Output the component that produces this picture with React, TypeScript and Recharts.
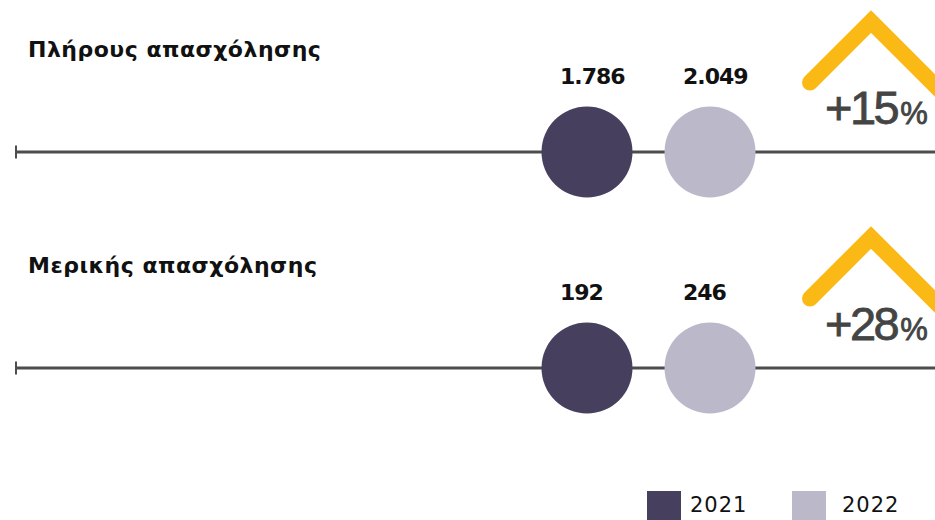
import React from "react";
import { ScatterChart, Scatter, XAxis, YAxis, ReferenceLine, Legend } from "recharts";

const rowLabels = ["Πλήρους απασχόλησης", "Μερικής απασχόλησης"];
const years = ["2021", "2022"];
const values2021 = [1786, 192];
const values2022 = [2049, 246];

const DARK = "#463F5E";
const LIGHT = "#BBB8CA";
const YELLOW = "#FBB916";
const LINE = "#4D4D4D";

const data2021 = values2021.map((v, i) => ({ slot: 0, row: i, value: v }));
const data2022 = values2022.map((v, i) => ({ slot: 1, row: i, value: v, prev: values2021[i] }));

const fmt = (n: number) => n.toString().replace(/\B(?=(\d{3})+(?!\d))/g, ".");

const R = 45.5;

const ValueLabel = ({ cx, cy, value }: any) => (
  <text x={cx - 27} y={cy - 68} fontFamily="DejaVu Sans" fontWeight={700} fontSize={22} letterSpacing={-1} fill="#111">
    {fmt(value)}
  </text>
);

const Dot2021 = (p: any) => {
  const { cx, cy, payload } = p;
  return (
    <g>
      <circle cx={cx} cy={cy} r={R} fill={DARK} />
      <ValueLabel cx={cx} cy={cy} value={payload.value} />
    </g>
  );
};

const Dot2022 = (p: any) => {
  const { cx, cy, payload } = p;
  const pct = Math.round(((payload.value - payload.prev) / payload.prev) * 100);
  return (
    <g>
      <circle cx={cx} cy={cy} r={R} fill={LIGHT} />
      <ValueLabel cx={cx} cy={cy} value={payload.value} />
      <path
        d={`M ${cx + 100} ${cy - 69.5} L ${cx + 161} ${cy - 130.5} L ${cx + 241} ${cy - 50.5}`}
        fill="none"
        stroke={YELLOW}
        strokeWidth={16}
        strokeLinecap="round"
        strokeLinejoin="miter"
      />
      <text x={cx + 115} y={cy - 28} fontFamily="Liberation Sans" fill="#444" stroke="#444" strokeWidth={0.8} letterSpacing={-2.5}>
        <tspan fontSize={47}>{`+${pct}`}</tspan>
        <tspan fontSize={31} letterSpacing={0} dx={3}>%</tspan>
      </text>
    </g>
  );
};

const RowTick = (p: any) => {
  const { x, y, payload } = p;
  const label = rowLabels[payload.value];
  return (
    <g>
      <line x1={x + 1} x2={x + 1} y1={y - 6.5} y2={y + 6.5} stroke={LINE} strokeWidth={2} />
      <text x={x + 13} y={y - 95} fontFamily="DejaVu Sans" fontWeight={700} fontSize={22} letterSpacing={0.5} fill="#111">
        {label}
      </text>
    </g>
  );
};

const LegendContent = () => {
  const cols = [DARK, LIGHT];
  const gaps = [9, 16];
  return (
    <div style={{ display: "flex" }}>
      {years.map((y, i) => (
        <div key={y} style={{ display: "flex", width: 145 }}>
          <div style={{ width: 34, height: 34, background: cols[i], marginRight: gaps[i] }} />
          <div
            style={{
              fontFamily: "DejaVu Sans",
              fontSize: 21,
              lineHeight: "20px",
              marginTop: 4,
              letterSpacing: 1,
              color: "#111",
            }}
          >
            {y}
          </div>
        </div>
      ))}
    </div>
  );
};

export default function App() {
  return (
    <div style={{ position: "absolute", left: 0, top: 0, width: 935, height: 520, background: "#fff" }}>
      <ScatterChart width={935} height={520} margin={{ top: 152, right: 0, bottom: 152, left: 0 }}>
        <XAxis type="number" dataKey="slot" domain={[-4.65, 2.829]} hide />
        <YAxis
          type="number"
          dataKey="row"
          domain={[0, 1]}
          ticks={[0, 1]}
          reversed
          width={15}
          axisLine={false}
          tickLine={false}
          tickSize={0}
          tickMargin={0}
          tick={RowTick}
        />
        {rowLabels.map((_, i) => (
          <ReferenceLine key={i} y={i} stroke={LINE} strokeWidth={3} />
        ))}
        <Scatter name={years[0]} data={data2021} fill={DARK} shape={Dot2021} isAnimationActive={false} />
        <Scatter name={years[1]} data={data2022} fill={LIGHT} shape={Dot2022} isAnimationActive={false} />
        <Legend
          layout="horizontal"
          verticalAlign="middle"
          align="center"
          content={<LegendContent />}
          wrapperStyle={{ left: 647, top: 491, width: 300, height: 34 }}
        />
      </ScatterChart>
    </div>
  );
}
